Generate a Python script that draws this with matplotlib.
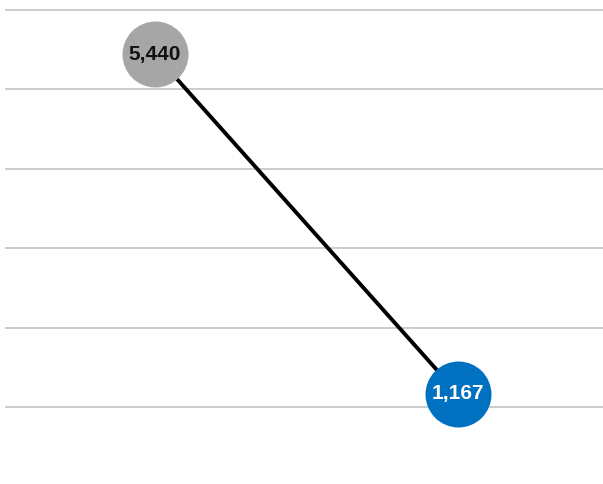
import matplotlib
matplotlib.use("Agg")
import matplotlib.pyplot as plt

categories = ["Before", "After"]
values = [5440, 1167]
labels = ["5,440", "1,167"]
point_colors = ["#a6a6a6", "#0070c0"]
text_colors = ["#111111", "#ffffff"]
grid_values = [1000, 2000, 3000, 4000, 5000, 6000]

fig = plt.figure(figsize=(6.03, 4.84), dpi=100)
ax = fig.add_axes([5/603, 0, 598/603, 1])
ax.set_xlim(-0.495, 1.478)
ax.set_ylim(30, 6126)
for g in grid_values:
    ax.axhline(g, color="#c8c8c8", lw=1.3, zorder=1)
xs = list(range(len(categories)))
ax.plot(xs, values, color="black", lw=2.8, zorder=2, solid_capstyle="butt")
for x, v, c, lab, tc in zip(xs, values, point_colors, labels, text_colors):
    ax.plot([x], [v], "o", ms=47.5, color=c, mec="none", zorder=3)
    ax.text(x, v, lab, ha="center", va="center", color=tc, fontsize=15,
            fontweight="bold", family="Liberation Sans", zorder=4)
ax.axis("off")
fig.savefig("out.png", dpi=100)
